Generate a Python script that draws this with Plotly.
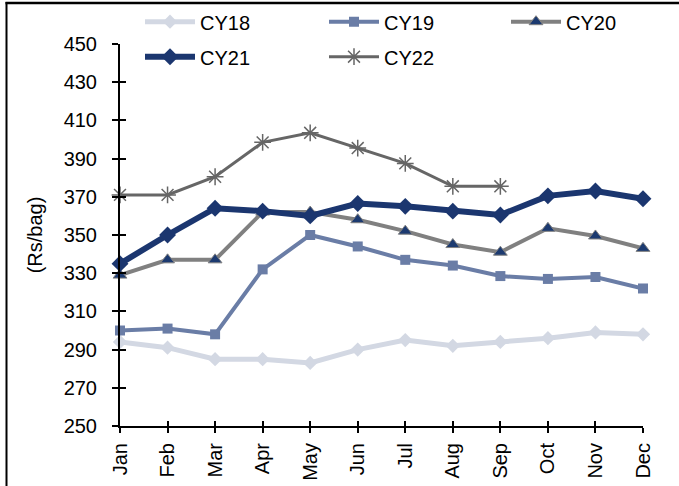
import plotly.graph_objects as go

months = ["Jan", "Feb", "Mar", "Apr", "May", "Jun", "Jul", "Aug", "Sep", "Oct", "Nov", "Dec"]
cy18 = [294, 291, 285, 285, 283, 290, 295, 292, 294, 296, 299, 298]
cy19 = [300, 301, 298, 332, 350, 344, 337, 334, 328.5, 327, 328, 322]
cy20 = [329, 337, 337, 362, 362, 358, 352, 345, 341, 353.5, 349.5, 343]
cy21 = [335, 350, 364, 362.5, 360, 366.5, 365, 362.5, 360.5, 370.5, 373, 369]
cy22 = [371, 371, 380.5, 398.5, 403.5, 395.5, 387.5, 375.5, 375.5]

FONT = "Liberation Sans, Arial, sans-serif"
FS = 20

fig = go.Figure()
fig.add_trace(go.Scatter(x=months, y=cy18, name="CY18", mode="lines+markers",
                         line=dict(color="#D3D8E3", width=5),
                         marker=dict(symbol="diamond", size=11, color="#D3D8E3"),
                         cliponaxis=False, legend="legend"))
fig.add_trace(go.Scatter(x=months, y=cy19, name="CY19", mode="lines+markers",
                         line=dict(color="#6A7DA6", width=4),
                         marker=dict(symbol="square", size=10, color="#6A7DA6"),
                         cliponaxis=False, legend="legend2"))
fig.add_trace(go.Scatter(x=months, y=cy20, name="CY20", mode="lines+markers",
                         line=dict(color="#808080", width=4),
                         marker=dict(symbol="triangle-up", size=12, color="#1C3A70",
                                     line=dict(color="#808080", width=1)),
                         cliponaxis=False, legend="legend3"))
fig.add_trace(go.Scatter(x=months, y=cy21, name="CY21", mode="lines+markers",
                         line=dict(color="#1B366F", width=6),
                         marker=dict(symbol="diamond", size=13, color="#1B366F"),
                         cliponaxis=False, legend="legend4"))
fig.add_trace(go.Scatter(x=months[:len(cy22)], y=cy22, name="CY22", mode="lines+markers",
                         line=dict(color="#666666", width=3),
                         marker=dict(symbol="asterisk-open", size=14, color="#666666",
                                     line=dict(color="#666666", width=1.5)),
                         cliponaxis=False, legend="legend5"))

axis_common = dict(showgrid=False, zeroline=False, linecolor="black", linewidth=2,
                   tickcolor="black", tickwidth=2,
                   tickfont=dict(family=FONT, size=FS, color="black"))


def leg(xpx, ypx):
    return dict(orientation="h", x=(xpx - 120) / 523, xanchor="left",
                y=(426 - ypx) / 382, yanchor="middle", bgcolor="rgba(0,0,0,0)",
                font=dict(family=FONT, size=FS, color="black"), itemwidth=50)


fig.update_layout(
    width=679, height=486,
    margin=dict(l=120, r=36, t=44, b=60, autoexpand=False),
    paper_bgcolor="white", plot_bgcolor="white",
    font=dict(family=FONT, size=FS, color="black"),
    xaxis=dict(type="category", range=[0, 11], ticks="outside", ticklen=5,
               tickangle=-90, showline=True, ticklabelstandoff=2, **axis_common),
    yaxis=dict(range=[250, 450], dtick=20, tick0=250, ticks="outside", ticklen=6,
               showline=True, ticklabelstandoff=11,
               title=dict(text="(Rs/bag)", standoff=16,
                          font=dict(family=FONT, size=FS, color="black")),
               **axis_common),
    xaxis2=dict(overlaying="x", range=[0, 11], tick0=0, dtick=1, ticks="inside",
                ticklen=5, showticklabels=False, showline=False, showgrid=False,
                zeroline=False, tickcolor="black", tickwidth=2, side="bottom"),
    yaxis2=dict(overlaying="y", range=[250, 450], tick0=250, dtick=20, ticks="inside",
                ticklen=6, showticklabels=False, showline=False, showgrid=False,
                zeroline=False, tickcolor="black", tickwidth=2, side="left"),
    legend=leg(140, 21.7),
    legend2=leg(324, 21.7),
    legend3=leg(506, 21.7),
    legend4=leg(140, 56.7),
    legend5=leg(324, 56.7),
    showlegend=True,
    shapes=[
        dict(type="line", xref="paper", yref="paper", x0=(6.5 - 120) / 523, x1=(6.5 - 120) / 523,
             y0=(426 - 500) / 382, y1=(426 - 2) / 382, line=dict(color="black", width=2)),
        dict(type="line", xref="paper", yref="paper", x0=(5.5 - 120) / 523, x1=(690 - 120) / 523,
             y0=(426 - 3) / 382, y1=(426 - 3) / 382, line=dict(color="black", width=2.5)),
    ],
)
# invisible helper trace so the overlaid tick-only axes are drawn
fig.add_trace(go.Scatter(x=[0], y=[250], xaxis="x2", yaxis="y2", mode="markers",
                         marker=dict(opacity=0), showlegend=False, hoverinfo="skip"))

fig.write_html("out.html", config={"displayModeBar": False},
               post_script="document.body.style.margin='0px';")
